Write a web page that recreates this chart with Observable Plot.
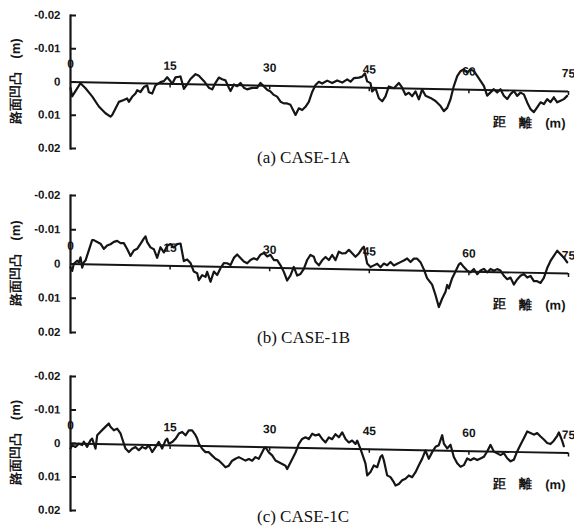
<!DOCTYPE html>
<html><head><meta charset="utf-8">
<script src="https://cdn.jsdelivr.net/npm/d3@7"></script>
<script src="https://cdn.jsdelivr.net/npm/@observablehq/plot@0.6"></script>
<style>
html,body{margin:0;padding:0;background:#fff;}
#root{position:relative;width:574px;height:529px;overflow:hidden;background:#fff;}
.panel{position:absolute;left:0;}
.panel svg{transform:skewY(1.1deg);transform-origin:70px 0;font-family:"Liberation Sans",Arial,sans-serif;font-weight:bold;background:transparent !important;overflow:visible;}
.cap{position:absolute;left:257px;font-family:"Liberation Serif","Times New Roman",serif;font-size:17px;line-height:18px;color:#111;white-space:nowrap;}
</style></head><body><div id="root"></div>
<script>
// distance (m) along road, road-surface unevenness (m); positive = downward
const caseA = [[0,0.0018],[0.25,0.0043],[1.5,0.0003],[2.26,0.0018],[3.26,0.0042],[4.27,0.0072],[5.27,0.0092],[6.02,0.0102],[6.28,0.0097],[6.78,0.0077],[7.28,0.0057],[8.03,0.0051],[8.53,0.0046],[8.79,0.0056],[9.29,0.0041],[9.79,0.0031],[10.04,0.0021],[10.54,0.0026],[11.04,0.0011],[11.55,0.0006],[11.8,0.0026],[12.3,0.003],[12.8,0.0005],[13.55,-0.0005],[14.06,-0.0008],[14.56,-0.002],[15.06,-0.0008],[15.31,0],[15.81,-0.002],[16.57,-0.0023],[17.07,0.0014],[17.57,0],[18.07,-0.0016],[18.83,-0.0031],[19.33,-0.0026],[20.08,-0.0011],[20.83,0.0009],[21.34,0.0014],[21.84,-0.0006],[22.34,-0.0022],[22.84,-0.0017],[23.34,-0.0014],[23.85,0.0008],[24.1,0.0018],[24.6,-0.0002],[25.1,0.0003],[25.6,-0.0007],[26.1,0.0007],[26.6,0.0012],[27.36,0.0007],[28.11,0.0007],[28.61,-0.0008],[29.12,0.0002],[29.62,0.0012],[30.12,0.0017],[30.62,0.0027],[31.12,0.0032],[31.63,0.0047],[32.13,0.0052],[32.63,0.0052],[33.13,0.0056],[33.63,0.0076],[33.89,0.0086],[34.39,0.0066],[34.89,0.0071],[35.39,0.0061],[35.89,0.0046],[36.4,0.0016],[36.9,-0.0005],[37.4,-0.0015],[37.9,-0.001],[38.66,-0.0019],[39.41,-0.0012],[40.16,-0.002],[40.92,-0.0014],[41.67,-0.0024],[42.17,-0.0017],[42.67,-0.0028],[43.43,-0.003],[43.93,-0.0033],[44.33,-0.0043],[44.68,-0.0019],[45.18,-0.0014],[45.43,0.0011],[45.94,0.0001],[46.44,0.0031],[46.94,0.004],[47.44,0.0025],[47.94,-0.0005],[48.7,0],[49.45,-0.0016],[49.95,-0.0002],[50.45,0.0019],[50.96,0.0013],[51.46,0.0023],[51.96,0.0008],[52.46,0.0032],[52.96,0.0002],[53.47,0.0021],[54.22,0.0027],[54.97,0.0036],[55.73,0.0051],[56.23,0.0066],[56.73,0.0056],[57.23,0.003],[57.73,-0.001],[58.24,-0.004],[58.74,-0.0055],[59.24,-0.0061],[59.74,-0.0051],[60.24,-0.0061],[60.75,-0.0056],[61.25,-0.0042],[61.75,-0.0027],[62.25,-0.0012],[62.75,0.0017],[63.26,0.0007],[63.76,-0.0003],[64.26,0.0007],[64.76,-0.0003],[65.26,0.0016],[65.77,0.0026],[66.27,0.0011],[66.77,0.0001],[67.27,0.0016],[67.77,0.0006],[68.28,0.0011],[68.78,0.0035],[69.28,0.0055],[69.78,0.0064],[70.28,0.0049],[70.79,0.0034],[71.29,0.0039],[71.79,0.0024],[72.29,0.0033],[72.79,0.0018],[73.3,0.0033],[73.8,0.0028],[74.3,0.0023],[74.8,0.0013]];

const caseB = [[0,0.001],[0.25,0.002],[0.5,-0.0001],[1.0,-0.001],[1.26,-0.0005],[1.51,-0.002],[1.76,0.001],[2.01,-0.0006],[2.26,-0.0011],[2.76,-0.0041],[3.26,-0.0071],[3.51,-0.0071],[4.02,-0.0066],[4.52,-0.0061],[5.02,-0.0046],[5.52,-0.0056],[6.02,-0.006],[6.53,-0.0067],[7.03,-0.007],[7.53,-0.0064],[8.03,-0.0064],[8.53,-0.0047],[9.04,-0.0027],[9.54,-0.0043],[10.04,-0.0048],[10.54,-0.0063],[11.04,-0.0078],[11.3,-0.0085],[11.55,-0.0068],[12.05,-0.0053],[12.55,-0.0048],[13.05,-0.0023],[13.55,-0.0054],[14.06,-0.0039],[14.56,-0.0059],[15.06,-0.0064],[15.56,-0.0054],[16.06,-0.0064],[16.57,-0.0066],[17.07,-0.0015],[17.57,-0.002],[18.07,-0.001],[18.57,0.0015],[19.08,0.002],[19.33,0.004],[19.83,0.0025],[20.33,0.003],[20.58,0.0015],[21.08,0.0044],[21.59,0.0014],[22.09,0.0024],[22.59,0.0004],[23.09,-0.0011],[23.59,-0.0011],[24.1,-0.0006],[24.6,-0.0027],[25.1,-0.0037],[25.6,-0.0027],[26.1,-0.0017],[26.61,-0.0012],[27.11,-0.0022],[27.61,-0.0027],[28.11,-0.0023],[28.61,-0.0038],[29.12,-0.0043],[29.62,-0.0033],[30.12,-0.0038],[30.62,-0.0023],[31.12,-0.0023],[31.63,-0.0008],[32.13,0.0011],[32.63,0.0036],[33.13,0.0021],[33.63,-0.0004],[34.14,0.0021],[34.64,0.0016],[35.14,0.0001],[35.64,-0.0025],[36.14,-0.004],[36.65,-0.0035],[36.9,-0.002],[37.4,-0.001],[37.9,-0.0025],[38.41,-0.0035],[38.91,-0.0026],[39.41,-0.0041],[39.91,-0.0026],[40.41,-0.0051],[40.92,-0.0046],[41.42,-0.0047],[41.92,-0.0057],[42.42,-0.0047],[42.92,-0.0037],[43.43,-0.0047],[43.93,-0.0062],[44.18,-0.0067],[44.68,-0.0018],[45.18,-0.0008],[45.69,-0.0013],[46.19,-0.0018],[46.69,-0.0008],[47.19,-0.0019],[47.69,-0.0014],[48.2,-0.0024],[48.7,-0.0014],[49.2,-0.0019],[49.7,-0.0024],[50.2,-0.0029],[50.7,-0.0035],[51.21,-0.0025],[51.71,-0.0035],[52.21,-0.0035],[52.71,-0.0025],[53.2,-0.0005],[53.7,0.0021],[54.46,0.004],[54.97,0.007],[55.47,0.0105],[55.98,0.008],[56.48,0.006],[56.73,0.004],[56.98,0.005],[57.48,0.002],[57.98,0],[58.48,-0.002],[58.74,-0.0025],[59.24,-0.0013],[59.74,-0.0003],[60.24,0.0002],[60.75,-0.0008],[61.25,0.0007],[61.75,-0.0004],[62.25,-0.0009],[62.75,0.0001],[63.26,-0.0009],[63.76,-0.0004],[64.26,-0.0009],[64.76,-0.0005],[65.26,0.001],[65.77,0.002],[66.27,0.0015],[66.77,0.0035],[67.27,0.002],[67.77,0.0009],[68.28,0.0004],[68.78,0.0014],[69.28,0.0009],[69.78,0.0024],[70.28,0.0024],[70.79,0.0029],[71.29,0.0014],[71.79,-0.0015],[72.29,-0.0036],[72.79,-0.0051],[73.3,-0.0066],[73.8,-0.0056],[74.3,-0.0046],[74.8,-0.0033]];

const caseC = [[0,0.0015],[0.25,0.0005],[0.75,0.001],[1.26,0],[1.76,0.0004],[2.01,-0.0006],[2.51,0.0009],[3.01,-0.0011],[3.26,-0.0016],[3.77,0.0014],[4.02,-0.0026],[4.52,-0.0037],[5.02,-0.0047],[5.52,-0.0057],[5.77,-0.0062],[6.02,-0.0052],[6.53,-0.0042],[7.03,-0.0047],[7.53,-0.0033],[7.78,-0.0018],[8.28,0.0012],[8.79,0.0022],[9.29,0.0012],[9.79,0.0007],[10.29,0.0016],[10.79,0.0006],[11.3,0.0011],[11.8,0.0001],[12.3,0.0021],[12.8,0.0006],[13.3,-0.001],[13.8,0.001],[14.31,-0.0015],[14.56,-0.002],[14.81,-0.0005],[15.31,-0.001],[15.81,-0.002],[16.32,-0.0036],[16.82,-0.0041],[17.32,-0.0031],[17.82,-0.0046],[18.32,-0.0046],[18.83,-0.0032],[19.08,-0.0022],[19.33,-0.0007],[19.83,0.0008],[20.33,0.0018],[20.83,0.0018],[21.34,0.0028],[21.84,0.0037],[22.34,0.0042],[22.84,0.0052],[23.34,0.0062],[23.85,0.0057],[24.35,0.0042],[24.85,0.0036],[25.35,0.0031],[25.85,0.0036],[26.36,0.0041],[26.86,0.0036],[27.36,0.0041],[27.86,0.003],[28.36,0.0035],[28.87,0.0015],[29.12,0.0005],[29.37,0],[29.87,0.0015],[30.37,0.0024],[30.87,0.0039],[31.38,0.0044],[31.88,0.0049],[32.38,0.0054],[32.63,0.0064],[32.88,0.0054],[33.38,0.0034],[33.89,0.0014],[34.39,-0.0012],[34.89,-0.0027],[35.39,-0.0032],[35.89,-0.0027],[36.4,-0.0043],[36.9,-0.0038],[37.4,-0.0042],[37.9,-0.0028],[38.41,-0.0018],[38.91,-0.0033],[39.41,-0.0028],[39.91,-0.0043],[40.41,-0.0034],[40.92,-0.0049],[41.42,-0.0029],[41.92,-0.0019],[42.42,-0.0025],[42.92,-0.0015],[43.18,-0.0025],[43.68,0],[43.93,0.0014],[44.43,0.0043],[44.68,0.0078],[45.18,0.0068],[45.68,0.0048],[46.19,0.0053],[46.69,0.0022],[46.94,0.0017],[47.19,0.0032],[47.69,0.0077],[48.19,0.0082],[48.69,0.0097],[48.95,0.0107],[49.45,0.0102],[49.95,0.0091],[50.45,0.0086],[50.95,0.0076],[51.46,0.0081],[51.96,0.0066],[52.46,0.0045],[52.97,0.0025],[53.46,0],[53.96,0.0025],[54.47,0.0005],[54.97,-0.0011],[55.47,-0.0016],[55.98,-0.0046],[56.23,-0.0021],[56.73,-0.0007],[57.23,-0.0018],[57.73,0.0018],[58.24,0.0037],[58.74,0.0047],[59.24,0.0042],[59.74,0.0022],[60.24,0.0027],[60.75,0.0021],[61.25,0.0026],[61.75,0.0021],[62.25,0.0016],[62.75,0],[63.26,-0.002],[63.76,0],[64.26,0.0005],[64.76,0.001],[65.26,0.0004],[65.77,0.0019],[66.27,0.0028],[66.77,0.0023],[67.27,-0.0002],[67.77,-0.0022],[68.28,-0.0042],[68.78,-0.0062],[69.28,-0.0058],[69.78,-0.0053],[70.28,-0.0058],[70.79,-0.0048],[71.29,-0.0039],[71.79,-0.0029],[72.29,-0.0026],[72.79,-0.0036],[73.3,-0.0051],[73.55,-0.0061],[74.05,-0.0036],[74.3,-0.002]];

const xTicks = [0, 15, 30, 45, 60, 75];
const xTickLabels = ["0", "15", "30", "45", "60", "75"];
const yTicks = [-0.02, -0.01, 0, 0.01, 0.02];
const yTickLabels = ["-0.02", "-0.01", "0", "0.01", "0.02"];
const yLabel = "路面凹凸　(m)";
const xLabel = "距　離　(m)";
const captions = ["(a) CASE-1A", "(b) CASE-1B", "(c) CASE-1C"];
const series = [caseA, caseB, caseC];

// layout per panel: svg top, plot height of y range, caption top
const layout = [
  {top: 5, span: 133, capTop: 149},
  {top: 185, span: 137, capTop: 329},
  {top: 366, span: 134, capTop: 508}
];

const root = document.getElementById("root");
const ink = "#151515";

series.forEach((data, k) => {
  const L = layout[k];
  const mt = 10, mb = 8;
  const chart = Plot.plot({
    width: 574,
    height: mt + L.span + mb,
    marginLeft: 70, marginRight: 6, marginTop: mt, marginBottom: mb,
    x: {domain: [0, 75], axis: null},
    y: {domain: [-0.02, 0.02], reverse: true, axis: null},
    marks: [
      Plot.ruleY([0], {stroke: ink, strokeWidth: 1.9}),
      Plot.frame({anchor: "left", stroke: ink, strokeWidth: 2.2}),
      Plot.ruleY(yTicks, {y: d => d, x1: 0, x2: 0, insetRight: -6, stroke: ink, strokeWidth: 2}),
      Plot.axisY({ticks: yTicks, tickSize: 0, tickPadding: 10, label: null,
        tickFormat: d => yTickLabels[yTicks.indexOf(d)], fontSize: 11.5, fill: ink}),
      Plot.ruleX(xTicks.slice(1), {x: d => d, y1: 0, y2: 0, insetBottom: -4, stroke: ink, strokeWidth: 1.5}),
      Plot.text(xTicks, {x: d => d, y: 0, text: (d, i) => xTickLabels[i], dy: -18, fontSize: 12, fill: ink}),
      Plot.line(data, {x: d => d[0], y: d => d[1], stroke: ink, strokeWidth: 2.2, strokeLinejoin: "round"}),
      Plot.text([yLabel], {frameAnchor: "left", textAnchor: "middle", rotate: -90, dx: -55, fontSize: 13, fill: ink}),
      Plot.text([xLabel], {frameAnchor: "right", textAnchor: "end", dx: -3, dy: 32, fontSize: 13, fill: ink})
    ]
  });
  const wrap = document.createElement("div");
  wrap.className = "panel";
  wrap.style.top = L.top + "px";
  wrap.appendChild(chart);
  root.appendChild(wrap);
});

captions.forEach((c, k) => {
  const d = document.createElement("div");
  d.className = "cap";
  d.style.top = layout[k].capTop + "px";
  d.textContent = c;
  root.appendChild(d);
});
</script>
</body></html>
